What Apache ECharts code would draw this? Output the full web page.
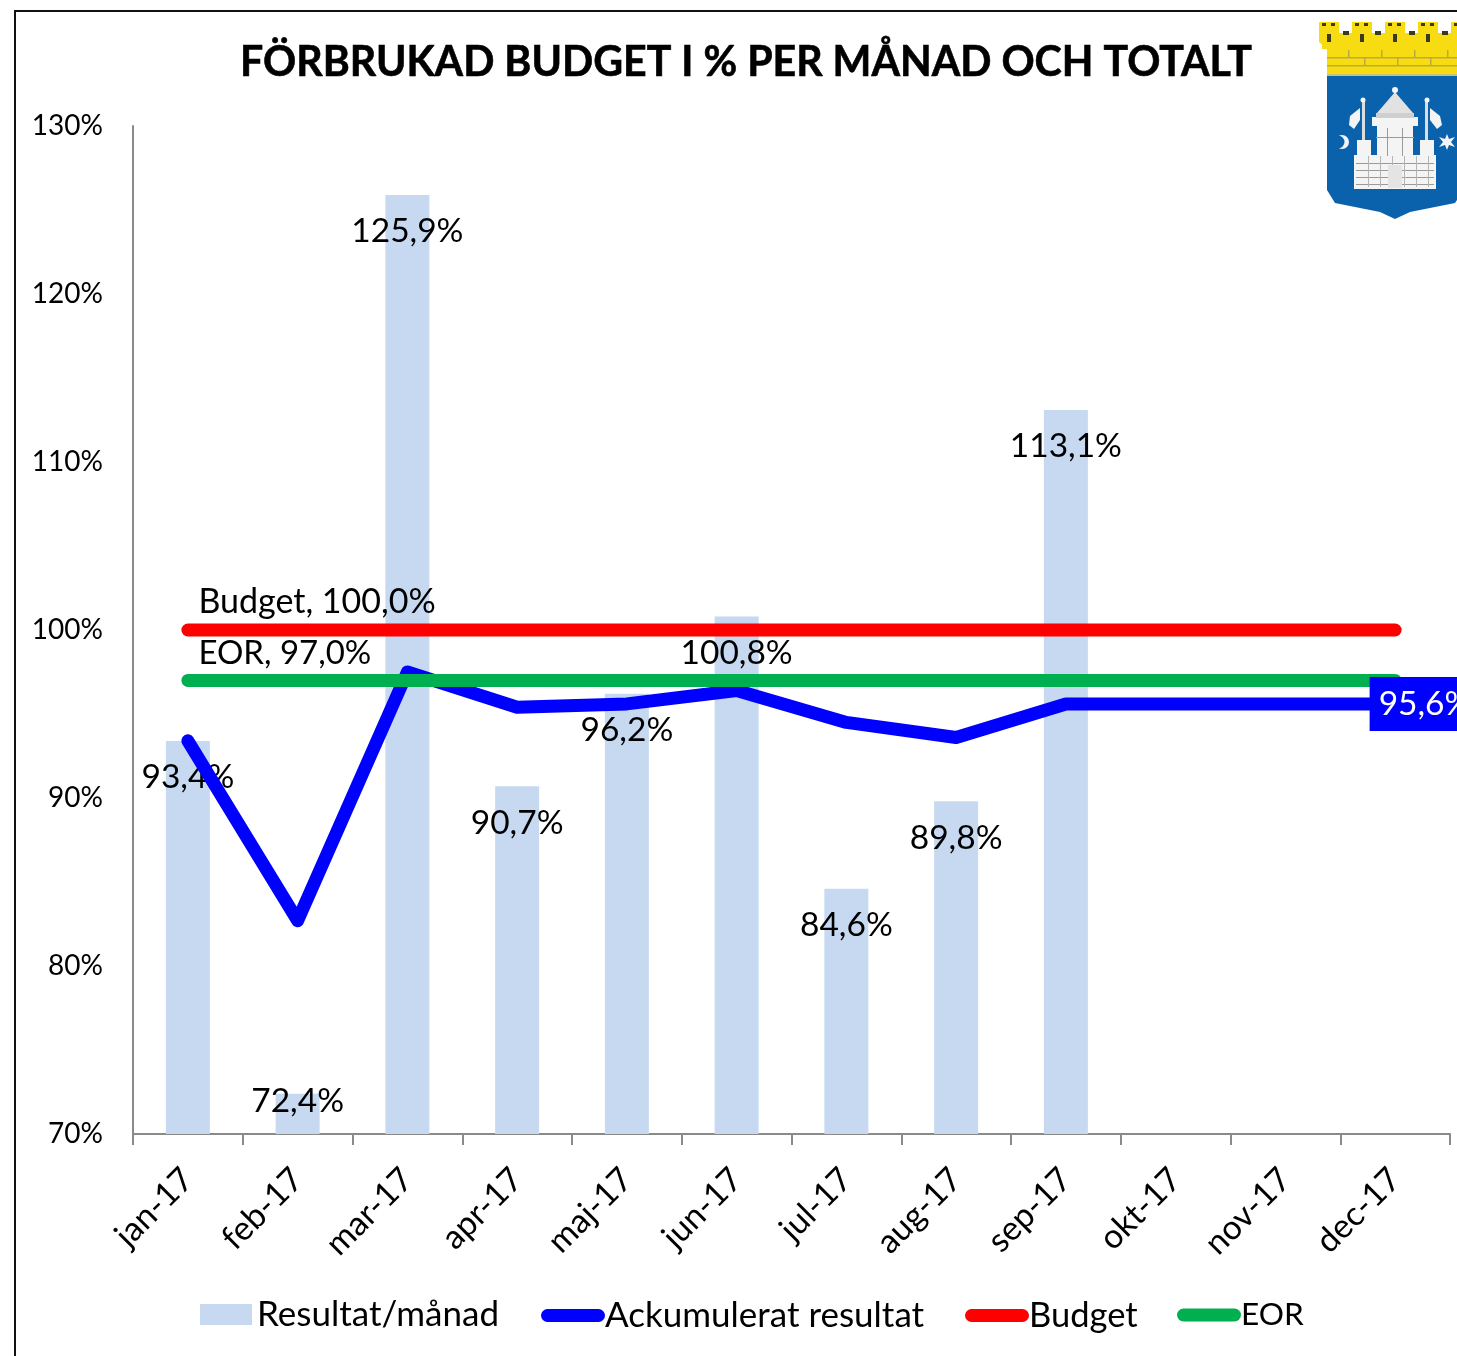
<!DOCTYPE html>
<html><head><meta charset="utf-8">
<style>html,body{margin:0;padding:0;background:#fff;overflow:hidden}#c{width:1457px;height:1356px}</style>
<script src="https://cdn.jsdelivr.net/npm/echarts@6/dist/echarts.min.js"></script>
</head><body><div id="c"></div>
<script>
const categories = ['jan-17','feb-17','mar-17','apr-17','maj-17','jun-17','jul-17','aug-17','sep-17','okt-17','nov-17','dec-17'];
const monthly = [93.4,72.4,125.9,90.7,96.2,100.8,84.6,89.8,113.1,null,null,null];
const cumulative = [93.4,82.7,97.5,95.4,95.6,96.4,94.5,93.6,95.6,95.6,95.6,95.6];
const budget = [100,100,100,100,100,100,100,100,100,100,100,100];
const eor = [97,97,97,97,97,97,97,97,97,97,97,97];
const yTicks = [70,80,90,100,110,120,130];
const FONT = 'Lato';
const comma = v => v.toFixed(1).replace('.', ',') + '%';

const txt = {fontFamily: FONT, fontSize: 33.5, color: '#000'};

const barData = monthly.map((v,i) => v === null ? null : ({
  value: v,
  label: {show: true, position: 'insideTop', distance: 0, offset: [0, i === 1 ? -9 : 19.5], formatter: comma(v), ...txt}
}));
const cumData = cumulative.map((v,i) => i === 11 ? ({
  value: v,
  label: {show: true, position: 'right', distance: 0, offset: [-26, 0], formatter: comma(v),
    fontFamily: FONT, fontSize: 33.5, color: '#fff', backgroundColor: '#0000FF', padding: [10, 9]}
}) : v);
const budgetData = budget.map((v,i) => i === 0 ? ({
  value: v, label: {show: true, position: 'right', distance: 0, offset: [10, -28], formatter: 'Budget, ' + comma(v), ...txt, fontSize: 34}
}) : v);
const eorData = eor.map((v,i) => i === 0 ? ({
  value: v, label: {show: true, position: 'right', distance: 0, offset: [10, -27], formatter: 'EOR, ' + comma(v), ...txt, fontSize: 33}
}) : v);

const PILL = 'path://M6.5 0H57.5A6.5 6.5 0 0 1 57.5 13H6.5A6.5 6.5 0 0 1 6.5 0Z';
function lineSeries(name, data, color) {
  return {name, type: 'line', data, symbol: 'circle', symbolSize: 1, showAllSymbol: true, z: 3, silent: true,
    lineStyle: {color, width: 13, cap: 'round', join: 'round'}, itemStyle: {color}};
}
function lineLegend(name, left, top, fontSize) {
  return {data: [name], left, top, itemWidth: 64, itemHeight: 13, padding: 0, icon: PILL, selectedMode: false,
    textStyle: {fontFamily: FONT, fontSize, color: '#000', padding: [0, 0, 0, -5]}};
}

/* decorative town emblem */
const WHITE = '#F4F4F4', BLUE = '#0B62AC', YEL = '#F7DC12', DK = '#3A3A20';
const emblem = [];
const add = (type, shape, fill) => emblem.push({type, shape, style: {fill}, silent: true});
add('polygon', {points: [[1327,76],[1464,76],[1464,190],[1455,203],[1410,212],[1395,219],[1380,212],[1335,203],[1327,190]]}, BLUE);
add('rect', {x: 1327, y: 48, width: 130, height: 28}, YEL);
[57,65].forEach(y => add('rect', {x: 1327, y, width: 130, height: 1.5}, '#B9A940'));
add('rect', {x: 1327, y: 74, width: 130, height: 2}, '#C9C27A');
[1348,1381,1414,1447].forEach(x => add('rect', {x, y: 50, width: 1.5, height: 7}, '#B9A940'));
[1364,1397,1430].forEach(x => add('rect', {x, y: 58, width: 1.5, height: 7}, '#B9A940'));
add('rect', {x: 1322, y: 33, width: 135, height: 16}, YEL);
[1329,1362,1395,1428,1461].forEach(x => {
  add('polygon', {points: [[x-10,22],[x+10,22],[x+10,42],[x,51],[x-10,42]]}, YEL);
  add('rect', {x: x-7, y: 23, width: 4, height: 3}, DK);
  add('rect', {x: x+2, y: 23, width: 4, height: 3}, DK);
  add('rect', {x: x-2, y: 34, width: 4, height: 8}, DK);
});
[1346,1378,1412,1445].forEach(x => add('rect', {x: x-3, y: 31, width: 6, height: 4}, DK));
add('polygon', {points: [[1377,113],[1395,92],[1413,113]]}, '#E2E2E2');
add('circle', {cx: 1395, cy: 90, r: 3}, WHITE);
add('rect', {x: 1372, y: 117, width: 46, height: 9}, WHITE);
add('rect', {x: 1376, y: 113, width: 38, height: 5}, '#CFCFCF');
add('rect', {x: 1377, y: 126, width: 36, height: 30}, WHITE);
add('rect', {x: 1357, y: 140, width: 14, height: 48}, WHITE);
add('rect', {x: 1420, y: 140, width: 14, height: 48}, WHITE);
add('rect', {x: 1354, y: 155, width: 82, height: 34}, WHITE);
add('rect', {x: 1362, y: 100, width: 3, height: 40}, '#DDD');
add('rect', {x: 1425, y: 100, width: 3, height: 40}, '#DDD');
add('circle', {cx: 1363, cy: 100, r: 2.5}, WHITE);
add('circle', {cx: 1427, cy: 100, r: 2.5}, WHITE);
add('polygon', {points: [[1360,108],[1350,116],[1349,125],[1354,129],[1360,120]]}, WHITE);
add('polygon', {points: [[1430,108],[1440,116],[1442,125],[1437,129],[1430,120]]}, WHITE);
add('circle', {cx: 1342, cy: 142, r: 7}, WHITE);
add('circle', {cx: 1338, cy: 142, r: 6.5}, BLUE);
add('polygon', {points: [[1447,134],[1449,139],[1455,137],[1451,142],[1455,147],[1449,145],[1447,150],[1445,145],[1439,147],[1443,142],[1439,137],[1445,139]]}, WHITE);
[163,170,177,184].forEach(y => add('rect', {x: 1356, y, width: 78, height: 1}, '#9A9A9A'));
[1368,1380,1392,1404,1416,1428].forEach(x => add('rect', {x, y: 156, width: 1, height: 31}, '#B5B5B5'));
add('rect', {x: 1387, y: 128, width: 1, height: 28}, '#9A9A9A');
add('rect', {x: 1402, y: 128, width: 1, height: 28}, '#9A9A9A');
add('rect', {x: 1376, y: 137, width: 38, height: 1}, '#9A9A9A');
add('rect', {x: 1388, y: 165, width: 14, height: 23}, '#E4E4E4');

const frame = [
  {type: 'rect', silent: true, shape: {x: 14, y: 10, width: 2, height: 1346}, style: {fill: '#111'}},
  {type: 'rect', silent: true, shape: {x: 14, y: 10, width: 1443, height: 2}, style: {fill: '#111'}}
];

const chart = echarts.init(document.getElementById('c'), null, {renderer: 'canvas', width: 1457, height: 1356});
chart.setOption({
  animation: false,
  backgroundColor: '#fff',
  title: {text: 'FÖRBRUKAD BUDGET I % PER MÅNAD OCH TOTALT', left: 741, top: 37, textAlign: 'center',
    textStyle: {fontFamily: FONT, fontWeight: 'bold', fontSize: 41.1, color: '#000', textBorderColor: '#000', textBorderWidth: 0.6}},
  grid: {left: 133, right: 7, top: 126, bottom: 222, containLabel: false},
  xAxis: {type: 'category', data: categories, boundaryGap: true,
    axisLine: {lineStyle: {color: '#8A8A8A', width: 2}},
    axisTick: {show: true, length: 11, alignWithLabel: false, lineStyle: {color: '#8A8A8A', width: 2}},
    axisLabel: {rotate: 45, interval: 0, margin: 40, fontFamily: FONT, fontSize: 33.5, color: '#000'}},
  yAxis: {type: 'value', min: 70, max: 130, interval: 10,
    splitLine: {show: false},
    axisLine: {show: true, lineStyle: {color: '#8A8A8A', width: 2}},
    axisTick: {show: false},
    axisLabel: {margin: 30, fontFamily: FONT, fontSize: 28, color: '#000',
      formatter: v => yTicks.includes(v) ? v + '%' : ''}},
  legend: [
    {data: ['Resultat/månad'], left: 200, top: 1297, itemWidth: 52, itemHeight: 21, padding: 0, icon: 'rect', selectedMode: false,
      textStyle: {fontFamily: FONT, fontSize: 35, color: '#000'}},
    lineLegend('Ackumulerat resultat', 541, 1298, 35),
    lineLegend('Budget', 965, 1298, 34.5),
    lineLegend('EOR', 1177, 1299, 31.5)
  ],
  graphic: [...frame, {type: 'group', children: emblem, z: 50}],
  series: [
    {name: 'Resultat/månad', type: 'bar', data: barData, barWidth: 44, itemStyle: {color: '#C6D9F1'}, z: 3, silent: true},
    lineSeries('Ackumulerat resultat', cumData, '#0000FF'),
    lineSeries('Budget', budgetData, '#FF0000'),
    lineSeries('EOR', eorData, '#00B050')
  ]
});
</script></body></html>
